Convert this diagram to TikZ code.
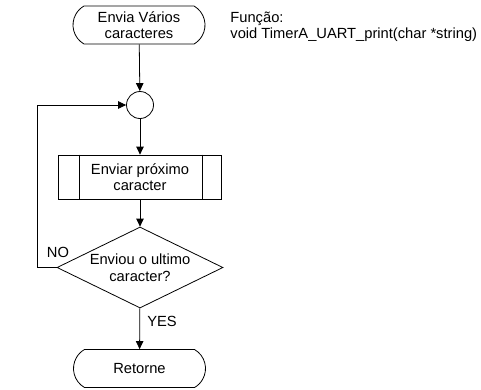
\documentclass[tikz,border=0pt]{standalone}
\usepackage{fontspec}
\setmainfont{Liberation Sans}
\usetikzlibrary{arrows.meta,shapes.geometric,shapes.misc}
\begin{document}
\begin{tikzpicture}[x=1pt,y=-1pt,line width=0.8pt,
  font=\fontsize{14.7}{16.5}\selectfont,
  arr/.style={-{Triangle[length=8pt,width=7.5pt]}},
  term/.style={draw,rounded rectangle,rounded rectangle arc length=120,
    minimum width=132pt,minimum height=38pt,inner sep=0pt,align=center},
  procbox/.style={draw,rectangle,minimum width=163pt,minimum height=44pt,
    inner sep=0pt,align=center},
  junction/.style={draw,circle,minimum size=27pt,inner sep=0pt},
  decision/.style={draw,diamond,aspect=2,minimum width=166pt,
    minimum height=81pt,inner sep=0pt,align=center},
  lbl/.style={inner sep=0pt}]
\useasboundingbox (0,0) rectangle (481,389);

\node[term] (start) at (139,25) {Envia Vários\\caracteres};
\node[lbl,anchor=base west,align=left] (func) at (230,38.8)
  {Função:\\void TimerA\_UART\_print(char *string)};
\node[junction] (join) at (140,105) {};
\node[procbox] (send) at (140,177) {Enviar próximo\\caracter};
\draw ([xshift=21pt]send.north west) -- ([xshift=21pt]send.south west);
\draw ([xshift=-20pt]send.north east) -- ([xshift=-20pt]send.south east);
\node[decision] (last) at (140,267.5) {Enviou o ultimo\\caracter?};
\node[term] (ret) at (139.5,368.5) {Retorne};

\coordinate (loopb) at (37,267.5);
\coordinate (loopt) at (37,105);

\draw[arr] (start) -- (join);
\draw[arr] (join) -- (send);
\draw[arr] (send) -- (last);
\draw[arr] (last) -- (ret);
\draw[arr] (last.west) -- (loopb) -- (loopt) -- (join);

\node[lbl] (no) at (58,252) {NO};
\node[lbl] (yes) at (162,321) {YES};
\end{tikzpicture}
\end{document}
